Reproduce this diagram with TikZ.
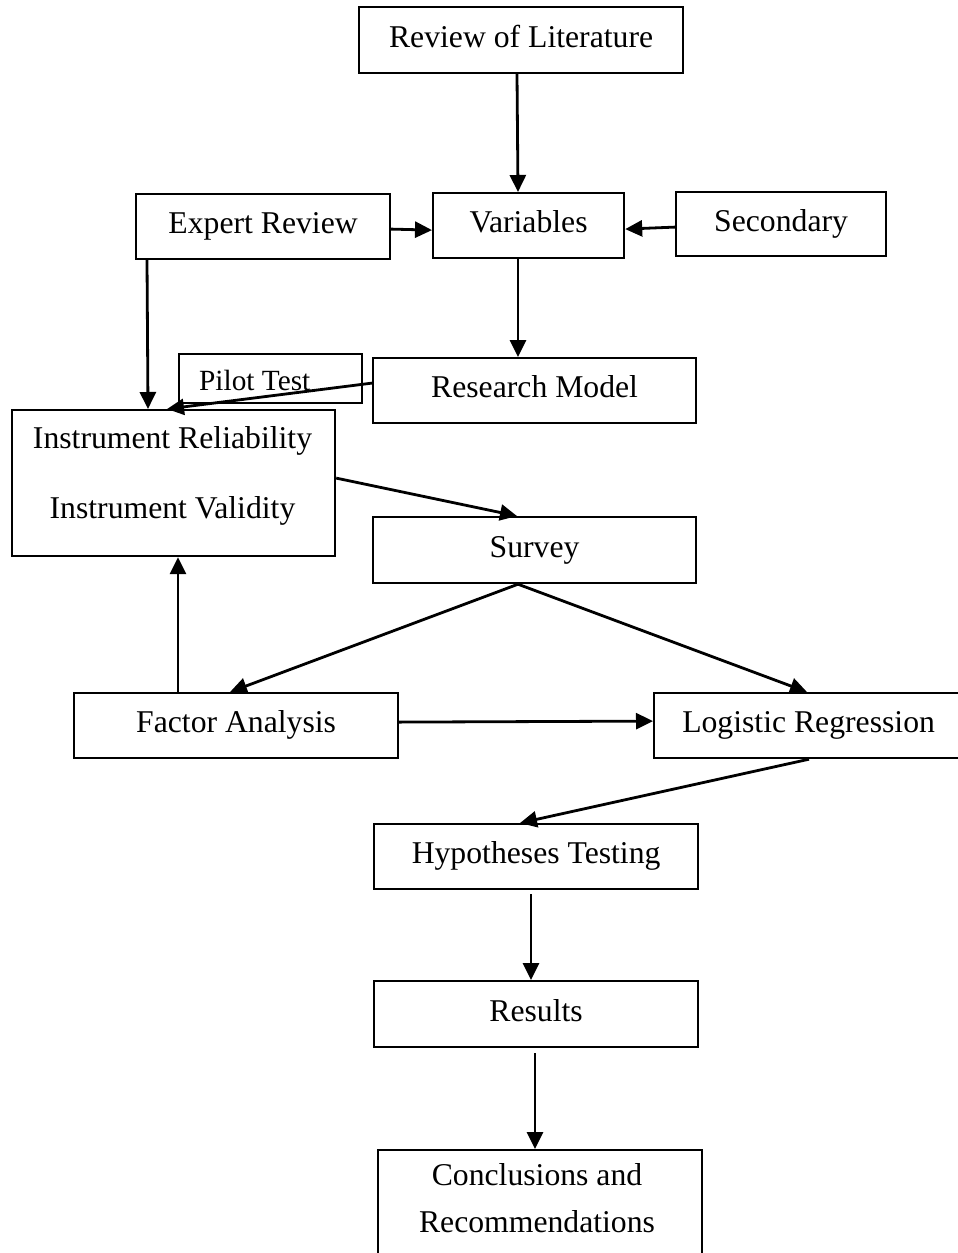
\documentclass[tikz,border=0pt]{standalone}
\usepackage{fontspec}
\setmainfont{Liberation Serif}
\usetikzlibrary{arrows.meta,calc}

\tikzset{
  box/.style={draw=black, line width=2.2pt, fill=white, inner sep=0pt,
    anchor=north west, minimum width=324pt, minimum height=65pt,
    font=\fontsize{31.7pt}{38pt}\selectfont, text height=22pt, text depth=7.5pt},
  lbl/.style={inner sep=0pt, anchor=base, font=\fontsize{31.7pt}{38pt}\selectfont},
  arr/.style={line width=2.8pt, -{Triangle[length=17pt,width=16pt]}}
}

\begin{document}
\begin{tikzpicture}[x=1pt,y=-1pt]
\useasboundingbox (0,0) rectangle (958,1253);
\clip (0,0) rectangle (958,1253);

% boxes
\node[box, minimum height=66pt] (lit) at (358,6) {Review of Literature};
\node[box, minimum width=254pt] (expert) at (135,193) {Expert Review};
\node[box, minimum width=191pt] (vars) at (432,192) {Variables};
\node[box, minimum width=210pt, minimum height=64pt] (sec) at (675,191) {Secondary};
\node[box, minimum width=183pt, minimum height=49pt] (pilot) at (178,353) {};
\node[inner sep=0pt, anchor=base west, font=\fontsize{29.3pt}{35pt}\selectfont] (pilottxt) at (199,390) {Pilot Test};
\node[box, minimum width=323pt] (model) at (372,357) {Research Model};
\node[box, minimum width=323pt, minimum height=146pt] (instr) at (11,409) {};
\node[lbl] (rel) at (172.5,448) {Instrument Reliability};
\node[lbl] (val) at (172.5,518) {Instrument Validity};
\node[box, minimum width=323pt, minimum height=66pt] (survey) at (372,516) {Survey};
\node[box] (factor) at (73,692) {Factor Analysis};
\node[box, minimum width=309pt] (logit) at (653,692) {Logistic Regression};
\node[box] (hyp) at (373,823) {Hypotheses Testing};
\node[box, minimum height=66pt] (results) at (373,980) {Results};
\node[box, minimum height=130pt] (concl) at (377,1149) {};
\node[lbl] (concla) at (537,1185) {Conclusions and};
\node[lbl] (conclb) at (537,1232) {Recommendations};

% connectors
\draw[arr] ([xshift=159pt]lit.south west) -- ([xshift=86pt]vars.north west);
\draw[arr] ([yshift=-2.5pt]expert.east) -- ([yshift=-4.5pt]vars.west);
\draw[arr] ([yshift=-3pt]sec.west) -- ([yshift=-3.5pt]vars.east);
\draw[arr] ([xshift=86pt]vars.south west) -- ([xshift=146pt]model.north west);
\draw[arr] ([xshift=12pt]expert.south west) -- ([xshift=137pt]instr.north west);
\draw[arr] ([yshift=7.5pt]model.west) -- ([xshift=156pt]instr.north west);
\draw[arr] ([yshift=5pt]instr.east) -- ([xshift=145pt]survey.north west);
\draw[arr] ([xshift=146pt]survey.south west) -- ([xshift=157pt]factor.north west);
\draw[arr] ([xshift=146pt]survey.south west) -- ([xshift=154pt]logit.north west);
\draw[arr] ([xshift=105pt]factor.north west) -- ([xshift=167pt]instr.south west);
\draw[arr] ([yshift=3.5pt]factor.east) -- ([yshift=4.5pt]logit.west);
\draw[arr] ([xshift=156pt]logit.south west) -- ([xshift=147pt]hyp.north west);
\draw[arr] ([xshift=158pt,yshift=-4pt]hyp.south west) -- ([xshift=158pt]results.north west);
\draw[arr] ([xshift=162pt,yshift=-5pt]results.south west) -- ([xshift=158pt]concl.north west);
\end{tikzpicture}
\end{document}
